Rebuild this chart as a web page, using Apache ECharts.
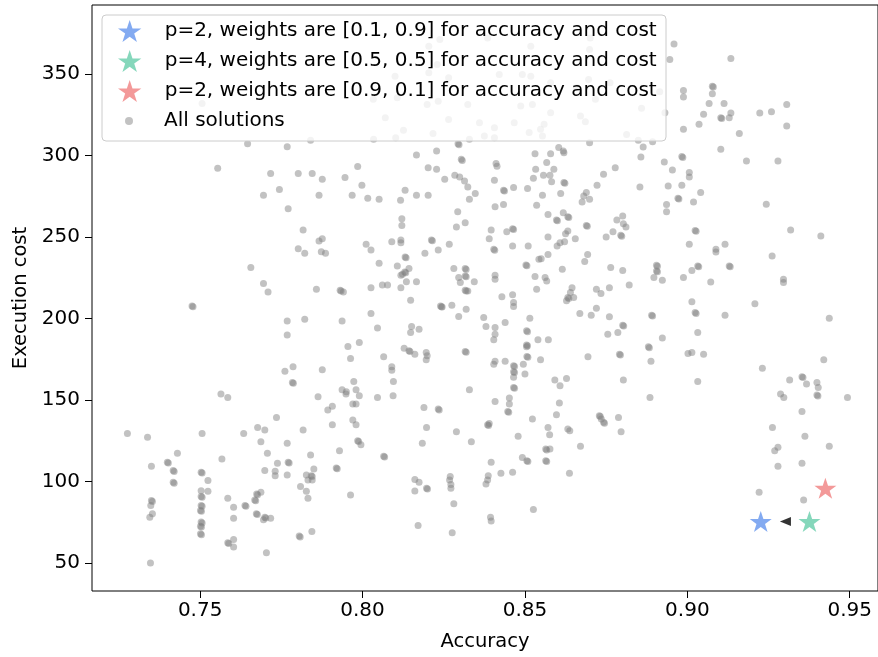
<!DOCTYPE html>
<html>
<head>
<meta charset="utf-8">
<script src="https://cdn.jsdelivr.net/npm/echarts@6/dist/echarts.min.js"></script>
<style>
  html, body { margin: 0; padding: 0; background: #fff; }
  #chart { width: 878px; height: 657px; }
</style>
</head>
<body>
<div id="chart"></div>
<script>
"use strict";

// all candidate solutions: [accuracy, execution cost]
var solutions = [
  [0.7646,307.2],[0.7768,305.4],[0.7554,292.1],[0.7717,288.9],[0.7744,279.1],[0.7695,275.6],[0.7506,331.9],
  [0.8238,371.1],[0.8204,367.0],[0.8230,355.8],[0.8204,350.7],[0.8100,348.6],[0.8265,347.6],[0.8033,334.4],[0.8107,335.4],
  [0.8199,331.3],[0.8233,333.3],[0.8324,331.3],[0.8070,323.1],[0.8265,322.1],[0.8360,320.1],[0.8126,315.4],[0.8034,309.9],
  [0.8102,310.9],[0.8217,313.4],[0.8329,309.9],[0.7840,309.3],[0.8294,307.2],[0.8297,306.5],[0.8228,302.7],[0.8166,300.3],
  [0.8304,297.6],[0.8307,296.9],[0.7985,293.2],[0.8202,292.5],[0.8228,291.5],[0.7802,288.9],[0.7845,288.9],[0.7876,285.4],
  [0.7946,286.4],[0.8253,285.4],[0.8284,287.8],[0.8299,286.8],[0.8314,284.4],[0.8324,280.7],[0.7998,281.7],[0.8131,278.7],
  [0.8347,276.6],[0.7866,275.6],[0.7968,275.6],[0.8016,273.8],[0.8051,273.2],[0.8117,272.5],[0.8166,275.6],[0.8202,275.6],
  [0.8329,273.2],
  [0.8385,372.1],[0.8518,367.0],[0.8701,372.1],[0.8699,365.0],[0.8959,368.4],[0.8946,358.8],[0.8492,349.7],[0.8518,348.6],
  [0.8421,349.7],[0.8696,346.6],[0.8762,344.6],[0.8579,344.6],[0.8660,341.5],[0.8915,339.0],[0.8717,334.4],[0.8523,331.3],
  [0.8487,330.3],[0.8859,328.9],[0.8931,326.2],[0.8579,326.2],[0.8671,324.2],[0.8686,320.7],[0.8467,320.1],[0.8406,317.0],
  [0.8559,319.1],[0.8513,314.0],[0.8548,316.0],[0.8375,311.9],[0.8406,310.9],[0.8554,311.9],[0.8813,312.9],[0.8849,309.3],
  [0.8893,308.4],[0.8699,307.8],[0.8864,305.2],[0.8604,304.8],[0.8620,301.7],[0.8618,302.7],[0.8531,301.1],[0.8579,301.1],
  [0.8857,299.1],[0.8929,296.0],[0.8954,291.1],[0.8411,295.0],[0.8414,293.4],[0.8567,295.6],[0.8533,291.5],[0.8589,291.5],
  [0.8778,292.5],[0.8742,288.5],[0.8557,287.8],[0.8577,287.8],[0.8526,286.0],[0.8406,284.8],[0.8620,283.4],[0.8623,283.0],
  [0.8582,283.8],[0.8722,281.7],[0.8434,278.7],[0.8437,278.2],[0.8465,280.3],[0.8508,279.7],[0.8854,280.7],[0.8941,281.3],
  [0.8610,276.6],[0.8554,275.6],[0.8689,277.2],[0.8681,275.2],[0.8699,273.2],
  [0.9134,359.5],[0.9077,342.5],[0.9080,342.0],[0.8988,339.9],[0.8988,335.8],[0.9077,337.8],[0.9067,331.9],[0.9113,331.9],
  [0.9050,325.2],[0.9103,323.1],[0.9106,322.6],[0.9129,323.1],[0.9134,326.0],[0.9223,326.0],[0.9259,326.8],[0.9306,331.3],
  [0.9306,318.0],[0.9036,319.1],[0.8988,316.0],[0.9160,313.5],[0.9103,303.8],[0.8983,299.3],[0.8986,298.8],[0.9182,296.6],
  [0.9279,296.6],[0.9006,289.5],[0.9006,286.8],[0.8983,281.7],[0.9041,277.2],[0.8971,273.8],[0.8974,273.3],[0.9019,271.5],
  [0.9243,270.1],
  [0.7771,267.3],[0.7656,231.2],[0.7695,221.4],[0.7709,216.3],[0.7475,207.7],[0.7478,207.2],[0.7768,198.5],[0.7768,189.8],
  [0.7761,167.7],[0.7564,153.7],[0.7585,151.6],
  [0.7817,254.2],[0.7866,247.5],[0.7876,248.9],[0.7802,242.8],[0.7822,240.0],[0.7873,241.0],[0.7886,240.0],[0.8011,245.5],
  [0.8026,242.0],[0.8090,247.1],[0.8118,248.1],[0.8118,246.5],[0.8121,261.2],[0.8121,257.1],[0.8212,248.1],[0.8215,247.6],
  [0.8192,240.0],[0.8233,242.0],[0.8267,245.5],[0.8293,265.5],[0.8316,258.7],[0.8289,256.1],[0.8051,233.8],[0.8107,232.2],
  [0.8131,237.7],[0.8134,237.2],[0.8130,228.5],[0.8133,228.0],[0.8123,227.1],[0.8143,230.6],[0.8118,226.5],[0.8135,222.6],
  [0.8166,222.6],[0.7858,217.9],[0.7931,217.3],[0.7934,216.8],[0.7941,216.3],[0.8026,218.9],[0.8061,220.6],[0.8077,220.6],
  [0.8118,218.9],[0.8148,211.2],[0.8281,230.6],[0.8316,230.6],[0.8319,230.1],[0.8296,225.1],[0.8316,226.1],[0.8319,225.6],
  [0.8301,222.0],[0.8344,222.6],[0.8316,217.3],[0.8319,216.8],[0.8324,216.9],[0.8240,207.7],[0.8243,207.2],[0.8245,207.1],
  [0.8275,208.1],[0.8319,205.7],[0.8296,201.2],[0.7822,199.6],[0.7937,198.5],[0.8026,203.0],[0.8046,194.1],[0.8151,195.1],
  [0.8148,191.4],[0.8174,193.4],[0.7955,182.8],[0.7990,185.3],[0.7963,175.5],[0.8065,176.5],[0.8128,181.8],[0.8143,180.2],
  [0.8146,179.7],[0.8161,178.1],[0.8196,179.2],[0.8199,177.1],[0.8196,174.7],[0.8316,179.8],[0.8319,179.3],[0.7786,170.4],
  [0.7784,160.8],[0.7787,160.3],[0.7876,168.6],[0.8090,170.4],[0.8090,168.3],[0.7973,161.4],[0.8095,161.4],[0.7937,156.3],
  [0.7950,155.1],[0.7980,156.3],[0.8329,156.3],
  [0.8408,268.5],[0.8434,269.9],[0.8536,269.5],[0.8676,271.4],[0.8936,269.9],[0.8936,265.5],[0.8571,263.8],[0.8597,260.4],
  [0.8600,259.9],[0.8618,264.8],[0.8632,262.4],[0.8635,261.9],[0.8689,257.1],[0.8692,256.6],[0.8783,260.4],[0.8801,262.8],
  [0.8803,258.1],[0.8811,256.1],[0.8771,253.2],[0.8750,250.0],[0.8795,251.0],[0.8798,250.5],[0.8396,254.2],[0.8390,248.9],
  [0.8444,253.2],[0.8462,255.0],[0.8465,254.5],[0.8571,250.0],[0.8608,246.5],[0.8599,244.4],[0.8622,247.1],[0.8632,253.6],
  [0.8625,252.0],[0.8655,248.9],[0.8404,242.4],[0.8407,241.9],[0.8462,244.4],[0.8510,244.4],[0.8503,232.8],[0.8506,232.3],
  [0.8543,236.3],[0.8550,236.7],[0.8571,239.3],[0.8615,230.2],[0.8693,239.3],[0.8684,234.9],[0.8764,231.2],[0.8801,229.5],
  [0.8905,232.6],[0.8908,232.1],[0.8905,229.1],[0.8908,228.6],[0.8897,225.1],[0.8923,223.4],[0.8408,226.5],[0.8408,224.0],
  [0.8531,225.7],[0.8562,225.1],[0.8567,223.0],[0.8536,217.9],[0.8645,218.9],[0.8640,215.9],[0.8632,212.8],[0.8635,212.3],
  [0.8628,210.8],[0.8650,212.8],[0.8720,217.9],[0.8734,215.3],[0.8760,218.9],[0.8821,220.6],[0.8429,213.4],[0.8462,214.5],
  [0.8465,209.8],[0.8465,207.3],[0.8373,200.6],[0.8380,195.1],[0.8408,194.5],[0.8408,190.4],[0.8404,186.9],[0.8439,197.5],
  [0.8515,200.2],[0.8505,192.4],[0.8508,191.9],[0.8669,203.0],[0.8704,202.0],[0.8720,206.3],[0.8760,201.0],[0.8801,195.9],
  [0.8804,195.4],[0.8755,190.4],[0.8786,191.4],[0.8890,202.0],[0.8893,201.5],[0.8923,188.1],[0.8505,183.8],[0.8508,183.3],
  [0.8505,182.6],[0.8540,186.9],[0.8572,186.9],[0.8506,176.7],[0.8509,176.2],[0.8548,174.7],[0.8408,173.7],[0.8404,172.0],
  [0.8439,173.7],[0.8465,171.0],[0.8468,170.5],[0.8465,167.3],[0.8468,166.8],[0.8465,163.9],[0.8465,157.7],[0.8468,157.2],
  [0.8495,172.0],[0.8500,165.9],[0.8694,176.5],[0.8791,178.1],[0.8794,177.6],[0.8880,182.6],[0.8883,182.1],[0.8888,173.7],
  [0.8592,162.2],[0.8608,158.8],[0.8628,163.2],[0.8803,162.2],
  [0.9024,254.0],[0.9027,253.5],[0.9318,254.2],[0.9411,250.6],[0.9006,245.5],[0.9116,245.5],[0.9088,242.4],[0.9088,240.8],
  [0.9261,238.3],[0.9032,232.2],[0.9035,231.7],[0.9014,229.5],[0.9129,232.2],[0.9132,231.7],[0.8988,225.1],[0.9072,222.4],
  [0.9296,224.0],[0.9296,222.0],[0.9014,210.2],[0.9024,203.6],[0.9027,203.1],[0.9116,202.0],[0.9208,209.1],[0.9437,200.2],
  [0.9032,191.4],[0.9002,178.5],[0.9014,179.2],[0.9050,178.1],[0.9231,169.4],[0.9420,174.7],[0.9032,161.4],[0.9315,162.2],
  [0.9353,164.3],[0.9356,163.8],[0.9367,159.8],[0.9399,160.8],[0.9403,157.7],
  [0.7735,139.3],[0.7276,129.5],[0.7338,127.1],[0.7506,129.5],[0.7634,129.5],[0.7677,133.2],[0.7699,131.6],[0.7687,124.4],
  [0.7768,123.4],[0.7707,117.3],[0.7738,111.2],[0.7771,111.8],[0.7774,111.3],[0.7430,117.3],[0.7399,111.8],[0.7402,111.3],
  [0.7417,106.7],[0.7420,106.2],[0.7417,99.5],[0.7420,99.0],[0.7350,109.3],[0.7567,113.8],[0.7699,106.7],[0.7731,106.3],
  [0.7731,103.6],[0.7768,104.0],[0.7503,105.7],[0.7506,105.2],[0.7524,100.6],[0.7503,94.4],[0.7524,94.0],[0.7350,88.3],
  [0.7353,87.8],[0.7348,85.3],[0.7353,80.2],[0.7345,78.1],[0.7503,90.8],[0.7506,90.3],[0.7503,85.3],[0.7506,84.8],
  [0.7501,82.2],[0.7504,81.7],[0.7503,75.1],[0.7506,74.6],[0.7501,72.6],[0.7504,72.1],[0.7501,67.9],[0.7504,67.4],
  [0.7585,89.8],[0.7603,84.2],[0.7603,77.5],[0.7638,85.3],[0.7641,84.8],[0.7668,88.7],[0.7671,88.2],[0.7674,92.4],
  [0.7677,91.9],[0.7687,93.4],[0.7673,80.2],[0.7676,79.7],[0.7699,78.1],[0.7702,77.6],[0.7695,76.5],[0.7717,77.5],
  [0.7585,62.4],[0.7588,61.9],[0.7603,64.5],[0.7603,59.8],[0.7704,56.3],[0.7347,50.0],
  [0.7863,152.0],[0.7949,153.6],[0.7990,152.6],[0.8046,151.6],[0.8094,152.6],[0.8189,145.4],[0.8233,144.4],[0.8236,143.9],
  [0.7893,143.8],[0.7907,146.1],[0.7970,147.5],[0.7980,147.5],[0.7907,134.8],[0.7817,131.6],[0.7970,137.7],[0.7980,134.8],
  [0.8197,133.2],[0.8289,130.5],[0.7985,125.0],[0.7988,124.5],[0.7995,122.6],[0.8184,123.4],[0.8335,124.4],[0.7929,118.9],
  [0.7840,116.3],[0.8065,115.5],[0.8068,115.0],[0.7919,108.3],[0.7922,107.8],[0.7850,107.7],[0.7827,104.0],[0.7842,103.6],
  [0.7845,103.1],[0.7845,101.0],[0.7832,101.0],[0.7809,96.9],[0.7827,94.0],[0.7832,89.7],[0.7963,91.8],[0.8161,101.2],
  [0.8174,99.5],[0.8197,95.9],[0.8200,95.4],[0.8161,94.2],[0.8270,103.0],[0.8268,101.0],[0.8272,98.1],[0.8272,95.9],
  [0.8281,86.3],[0.8171,73.0],[0.8276,68.5],[0.7805,66.5],[0.7808,66.0],[0.7844,69.3],
  [0.8408,149.1],[0.8452,151.2],[0.8452,147.5],[0.8447,143.0],[0.8450,142.5],[0.8606,148.1],[0.8523,138.3],[0.8597,141.0],
  [0.8385,134.8],[0.8388,134.3],[0.8390,135.6],[0.8479,127.7],[0.8571,133.2],[0.8576,128.7],[0.8632,132.2],[0.8638,131.2],
  [0.8671,121.6],[0.8564,119.9],[0.8567,119.4],[0.8577,119.9],[0.8492,114.8],[0.8506,112.8],[0.8509,112.3],[0.8564,112.8],
  [0.8567,112.3],[0.8396,111.8],[0.8387,103.6],[0.8385,101.0],[0.8380,98.5],[0.8426,105.0],[0.8462,105.7],[0.8637,105.0],
  [0.8526,82.8],[0.8394,78.1],[0.8396,75.7],[0.8729,140.3],[0.8732,139.8],[0.8742,136.3],[0.8745,135.8],[0.8735,138.3],
  [0.8788,139.3],[0.8796,130.5],[0.8885,151.6],
  [0.9287,153.6],[0.9297,151.6],[0.9399,153.0],[0.9402,152.5],[0.9493,151.6],[0.9353,143.0],[0.9262,133.2],[0.9362,127.7],
  [0.9437,121.6],[0.9279,121.0],[0.9269,118.9],[0.9279,109.3],[0.9353,111.2],[0.9221,93.4],[0.9358,88.7]
];

// the three chosen solutions
var starNames = [
  'p=2, weights are [0.1, 0.9] for accuracy and cost',
  'p=4, weights are [0.5, 0.5] for accuracy and cost',
  'p=2, weights are [0.9, 0.1] for accuracy and cost'
];
var starAcc = [0.9226, 0.9376, 0.9425];
var starCost = [75.5, 75.5, 95.9];
var starColors = ['#6495ED', '#66CDAA', '#F08080'];

// small arrow head between the blue and green stars
var arrowHead = [[0.9302, 75.5]];

var xTicks = [0.75, 0.80, 0.85, 0.90, 0.95];
var yTicks = [50, 100, 150, 200, 250, 300, 350];

var STAR = 'path://M50,0 L61.8,35.1 L98.8,35.1 L68.9,56.8 L80.2,91.9 L50,70.2 L19.8,91.9 L31.1,56.8 L1.2,35.1 L38.2,35.1 Z';
var FONT = 'DejaVu Sans';

var chart = echarts.init(document.getElementById('chart'), null, { renderer: 'canvas' });

var series = [{
  name: 'All solutions',
  type: 'scatter',
  data: solutions,
  symbol: 'circle',
  symbolSize: 7,
  itemStyle: { color: 'rgba(128,128,128,0.6)' },
  z: 2
}];

for (var i = 0; i < starNames.length; i++) {
  series.push({
    name: starNames[i],
    type: 'scatter',
    data: [[starAcc[i], starCost[i]]],
    symbol: STAR,
    symbolSize: [22, 21],
    itemStyle: { color: starColors[i] },
    z: 3
  });
}

series.push({
  name: 'arrow',
  type: 'scatter',
  data: arrowHead,
  symbol: 'triangle',
  symbolRotate: 90,
  symbolSize: [9, 11],
  itemStyle: { color: '#000' },
  z: 3
});

var option = {
  animation: false,
  backgroundColor: '#fff',
  // the axes run past the right edge of the picture, so the right spine is not visible
  grid: {
    left: 92, top: 5, right: -6, bottom: 65,
    show: true, borderColor: '#000', borderWidth: 1, backgroundColor: 'transparent'
  },
  xAxis: {
    type: 'value',
    min: 0.7167, max: 0.9587,
    name: 'Accuracy',
    nameLocation: 'middle',
    nameGap: 41,
    nameTextStyle: { fontFamily: FONT, fontSize: 19.5, color: '#000' },
    axisLine: { show: false },
    splitLine: { show: false },
    axisTick: { show: true, length: 7, customValues: xTicks, lineStyle: { color: '#000' } },
    axisLabel: {
      customValues: xTicks, margin: 10,
      fontFamily: FONT, fontSize: 20, color: '#000',
      formatter: function (v) { return v.toFixed(2); }
    }
  },
  yAxis: {
    type: 'value',
    min: 32.84, max: 392.28,
    name: 'Execution cost',
    nameLocation: 'middle',
    nameGap: 61,
    nameTextStyle: { fontFamily: FONT, fontSize: 19.5, color: '#000' },
    axisLine: { show: false },
    splitLine: { show: false },
    axisTick: { show: true, length: 7, customValues: yTicks, lineStyle: { color: '#000' } },
    axisLabel: {
      customValues: yTicks, margin: 12,
      fontFamily: FONT, fontSize: 20, color: '#000',
      formatter: function (v) { return String(Math.round(v)); }
    }
  },
  graphic: [{
    type: 'rect',
    z: 10,
    shape: { x: 102, y: 15, width: 564, height: 126, r: 4 },
    style: { fill: 'rgba(255,255,255,0.8)', stroke: '#cccccc', lineWidth: 1 }
  }],
  legend: [{
    data: starNames.map(function (n) { return { name: n, icon: STAR }; }),
    orient: 'vertical',
    left: 113, top: 15,
    itemWidth: 60, itemHeight: 22, itemGap: 8,
    selectedMode: false,
    z: 20,
    textStyle: { fontFamily: FONT, fontSize: 20, color: '#000', lineHeight: 22 }
  }, {
    data: [{ name: 'All solutions', icon: 'circle' }],
    orient: 'vertical',
    left: 120, top: 105,
    itemWidth: 60, itemHeight: 8,
    selectedMode: false,
    z: 20,
    textStyle: { fontFamily: FONT, fontSize: 20, color: '#000', lineHeight: 22 }
  }],
  series: series
};

chart.setOption(option);
</script>
</body>
</html>
